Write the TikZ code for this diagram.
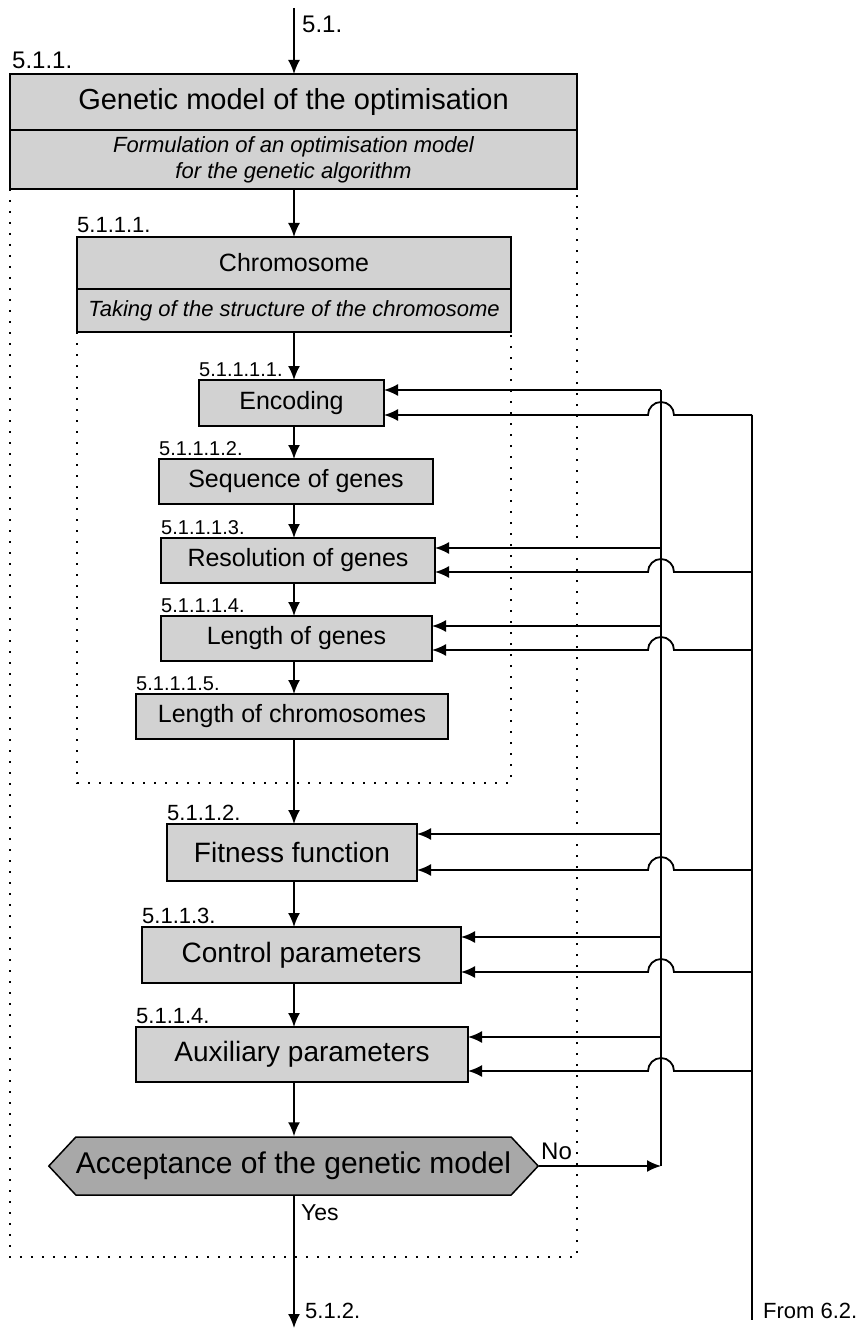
\documentclass[tikz,border=0pt]{standalone}
\usepackage{fontspec}
\setmainfont{Liberation Sans}
\usetikzlibrary{positioning,arrows.meta,shapes.symbols}
\definecolor{boxgray}{RGB}{210,210,210}
\definecolor{hexgray}{RGB}{168,168,168}
\begin{document}
\begin{tikzpicture}[x=1pt,y=-1pt]
\tikzstyle{box}=[rectangle,draw,fill=boxgray,line width=1.5pt,inner sep=0pt,outer sep=0pt,align=center]
\tikzstyle{subbox}=[box,font=\fontsize{25}{30}\selectfont]
\tikzstyle{lowbox}=[box,font=\fontsize{28}{32}\selectfont]
\tikzstyle{num}=[inner sep=0pt,font=\fontsize{22}{26}\selectfont]
\tikzstyle{subnum}=[inner sep=0pt,font=\fontsize{20}{24}\selectfont]
\tikzstyle{arr}=[line width=1.8pt,-{Latex[length=14pt,width=12pt]}]
\tikzstyle{wire}=[line width=1.8pt]
\tikzstyle{dots}=[line width=1.7pt,dash pattern=on 1.7pt off 9.3pt]
\useasboundingbox (0,0) rectangle (859,1329);
% columns and ends
\coordinate (col) at (294,0);
\coordinate (fb) at (661,0);
\coordinate (ret) at (752,0);
\coordinate (hopl) at (648,0);
\coordinate (hopr) at (674,0);
\coordinate (entry) at (294,8);
\coordinate (exit) at (294,1328);
\coordinate (src) at (752,1320);
\coordinate (outerbot) at (0,1257);
\coordinate (innerbot) at (0,783);
% genetic model
\node (gmhead) [box,minimum width=567,minimum height=56,font=\fontsize{29}{34}\selectfont] at (293.5,102) {Genetic model of the optimisation};
\node (gmsub) [box,below=0pt of gmhead,minimum width=567,minimum height=59,font=\fontsize{22}{26}\selectfont\itshape] {Formulation of an optimisation model\\for the genetic algorithm};
\node (gmnum) [num,above right=5pt and 2pt of gmhead.north west,font=\fontsize{24}{28}\selectfont] {5.1.1.};
% chromosome
\node (chhead) [subbox,minimum width=434,minimum height=52] at (294,263) {Chromosome};
\node (chsub) [box,below=0pt of chhead,minimum width=434,minimum height=43,font=\fontsize{22}{26}\selectfont\itshape] {Taking of the structure of the chromosome};
\node (chnum) [num,above right=4pt and 0pt of chhead.north west] {5.1.1.1.};
\node (enc) [subbox,minimum width=185,minimum height=46] at (291.5,403) {Encoding};
\node (seq) [subbox,minimum width=274,minimum height=45] at (296,481.5) {Sequence of genes};
\node (res) [subbox,minimum width=274,minimum height=45] at (298,560.5) {Resolution of genes};
\node (lgen) [subbox,minimum width=271,minimum height=45] at (296.5,638.5) {Length of genes};
\node (lchr) [subbox,minimum width=312,minimum height=45] at (292,716.5) {Length of chromosomes};
\node [subnum,above right=3pt and 0pt of enc.north west] {5.1.1.1.1.};
\node [subnum,above right=3pt and 0pt of seq.north west] {5.1.1.1.2.};
\node [subnum,above right=3pt and 0pt of res.north west] {5.1.1.1.3.};
\node [subnum,above right=3pt and 0pt of lgen.north west] {5.1.1.1.4.};
\node [subnum,above right=3pt and 0pt of lchr.north west] {5.1.1.1.5.};
% lower steps
\node (fit) [lowbox,minimum width=250,minimum height=57] at (292,852.5) {Fitness function};
\node (ctrl) [lowbox,minimum width=319,minimum height=56] at (301.5,955) {Control parameters};
\node (aux) [lowbox,minimum width=332,minimum height=55] at (302,1054.5) {Auxiliary parameters};
\node [num,above right=3pt and 0pt of fit.north west] {5.1.1.2.};
\node [num,above right=3pt and 0pt of ctrl.north west] {5.1.1.3.};
\node [num,above right=3pt and 0pt of aux.north west] {5.1.1.4.};
\node (accept) [signal,signal to=west and east,signal pointer angle=94,draw,fill=hexgray,line width=1.5pt,inner sep=0pt,minimum width=489,minimum height=58,font=\fontsize{30}{34}\selectfont] at (293.5,1166) {Acceptance of the genetic model};
% dotted frames
\draw[dots] (gmsub.south west) -- (gmsub.south west |- outerbot) -- (gmsub.south east |- outerbot) -- (gmsub.south east);
\draw[dots] (chsub.south west) -- (chsub.south west |- innerbot) -- (chsub.south east |- innerbot) -- (chsub.south east);
% main flow
\draw[arr] (entry) -- (gmhead.north -| col);
\foreach \a/\b in {gmsub/chhead,chsub/enc,enc/seq,seq/res,res/lgen,lgen/lchr,lchr/fit,fit/ctrl,ctrl/aux,aux/accept}
  \draw[arr] (\a.south -| col) -- (\b.north -| col);
\draw[arr] (accept.south -| col) -- (exit);
\node [inner sep=0pt,anchor=base west,font=\fontsize{24}{28}\selectfont] at (302,33) {5.1.};
\node [num,anchor=base west] at (305,1318) {5.1.2.};
\node [inner sep=0pt,anchor=base west,font=\fontsize{23}{27}\selectfont] at (301,1220) {Yes};
\node [inner sep=0pt,anchor=base west,font=\fontsize{24}{28}\selectfont] at (541,1159) {No};
\node [num,anchor=base west] at (763,1318) {From 6.2.};
% feedback
\foreach \b in {enc,res,lgen,fit,ctrl,aux}{
  \coordinate (\b-up) at ([yshift=-10pt]\b.north east);
  \coordinate (\b-dn) at ([yshift=11pt]\b.south east);
  \draw[arr] (\b-up -| fb) -- (\b-up);
  \draw[arr] (\b-dn -| ret) -- (\b-dn -| hopr) arc[start angle=0,end angle=180,radius=13pt] -- (\b-dn);
}
\draw[wire] (enc-up -| fb) -- (accept.east -| fb);
\draw[wire] (enc-dn -| ret) -- (src);
\draw[arr] (accept.east) -- (accept.east -| fb);
\end{tikzpicture}
\end{document}
